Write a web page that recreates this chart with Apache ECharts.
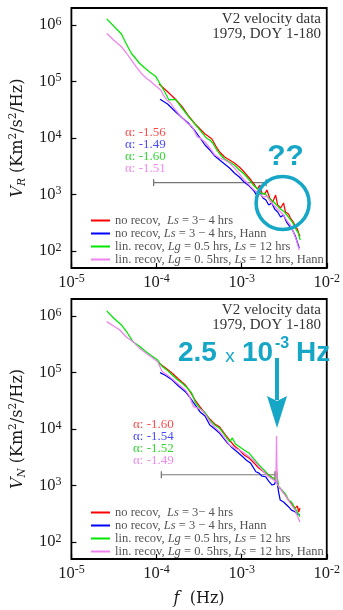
<!DOCTYPE html>
<html><head><meta charset="utf-8">
<script src="https://cdn.jsdelivr.net/npm/echarts@6/dist/echarts.min.js"></script>
<style>html,body{margin:0;padding:0;background:#fff}#c{width:343px;height:610px}</style>
</head><body><div id="c"></div>
<script>
// ---------------- data ----------------
const seriesNames = [
  'no recov, Ls = 3- 4 hrs',
  'no recov, Ls = 3 - 4 hrs, Hann',
  'lin. recov, Lg = 0.5 hrs, Ls = 12 hrs',
  'lin. recov, Lg = 0. 5hrs, Ls = 12 hrs, Hann'
];
const seriesColors = ['#ff0000', '#0000ff', '#00e600', '#ee82ee'];
const alphaTop = ['-1.56', '-1.49', '-1.60', '-1.51'];
const alphaBot = ['-1.60', '-1.54', '-1.52', '-1.49'];
const alphaColors = ['#ff4a4a', '#4a4aff', '#33d633', '#ee8cee'];
const panelNote = ['V2 velocity data', '1979, DOY 1-180'];

// Top panel (V_R): [frequency Hz, PSD]
const topRed = [[1.07e-4,9.04e4],[1.32e-4,6.79e4],[1.67e-4,4.84e4],[2.01e-4,3.54e4],[2.38e-4,2.45e4],[2.84e-4,1.77e4],[3.25e-4,1.44e4],[3.71e-4,1.18e4],[4.02e-4,1.08e4],[4.47e-4,9.6e3],[4.97e-4,7.2e3],[5.52e-4,5.65e3],[6.31e-4,4.61e3],[7.21e-4,4.08e3],[8.23e-4,3.61e3],[9.40e-4,3.07e3],[1.07e-3,2.50e3],[1.23e-3,1.96e3],[1.40e-3,1.53e3],[1.52e-3,1.25e3],[1.64e-3,1.47e3],[1.73e-3,1.06e3],[1.87e-3,1.02e3],[1.98e-3,1.20e3],[2.14e-3,867],[2.32e-3,736],[2.51e-3,980],[2.65e-3,652],[2.87e-3,577],[3.11e-3,708],[3.27e-3,490],[3.55e-3,452],[3.74e-3,384],[4.05e-3,326],[4.28e-3,266],[4.51e-3,245],[4.75e-3,192],[4.88e-3,184]];
const topBlue = [[1.10e-4,4.84e4],[1.35e-4,4.0e4],[1.67e-4,2.92e4],[2.01e-4,2.26e4],[2.38e-4,1.82e4],[2.84e-4,1.33e4],[3.25e-4,1.0e4],[3.71e-4,7.52e3],[4.23e-4,6.14e3],[4.84e-4,4.80e3],[5.52e-4,4.08e3],[6.31e-4,3.47e3],[7.21e-4,2.94e3],[8.23e-4,2.40e3],[9.40e-4,2.04e3],[1.07e-3,1.66e3],[1.23e-3,1.41e3],[1.40e-3,1.15e3],[1.52e-3,940],[1.64e-3,1.06e3],[1.78e-3,867],[1.93e-3,800],[2.08e-3,652],[2.26e-3,708],[2.44e-3,553],[2.65e-3,490],[2.87e-3,400],[3.11e-3,434],[3.37e-3,326],[3.65e-3,277],[3.95e-3,235],[4.28e-3,184],[4.51e-3,144],[4.75e-3,113]];
const topGreen = [[2.60e-5,1.28e6],[3.87e-5,6.93e5],[4.42e-5,4.61e5],[5.06e-5,3.16e5],[6.31e-5,2.10e5],[8.22e-5,1.49e5],[9.82e-5,1.22e5],[1.12e-4,8.67e4],[1.25e-4,6.52e4],[1.40e-4,4.71e4],[1.67e-4,4.8e4],[2.00e-4,3.36e4],[2.38e-4,2.38e4],[3.10e-4,1.49e4],[3.88e-4,9.88e3],[4.23e-4,9.22e3],[4.58e-4,8.17e3],[5.10e-4,6.14e3],[5.52e-4,5.21e3],[6.31e-4,4.25e3],[7.21e-4,3.76e3],[8.23e-4,3.33e3],[9.40e-4,2.72e3],[1.07e-3,2.31e3],[1.23e-3,1.81e3],[1.40e-3,1.41e3],[1.60e-3,1.20e3],[1.73e-3,1.02e3],[1.87e-3,1.06e3],[2.08e-3,867],[2.32e-3,767],[2.58e-3,652],[2.87e-3,553],[3.19e-3,490],[3.55e-3,400],[3.95e-3,326],[4.28e-3,255],[4.63e-3,208],[4.88e-3,157]];
const topViolet = [[2.60e-5,7.13e5],[3.13e-5,5.43e5],[3.87e-5,4.13e5],[4.42e-5,3.19e5],[5.06e-5,2.40e5],[5.78e-5,1.81e5],[6.60e-5,1.40e5],[7.54e-5,1.15e5],[8.61e-5,9.92e4],[9.82e-5,8.31e4],[1.12e-4,7.08e4],[1.22e-4,5.54e4],[1.32e-4,4.71e4],[1.46e-4,4.16e4],[1.67e-4,3.13e4],[1.91e-4,2.45e4],[2.12e-4,2.08e4],[2.36e-4,1.77e4],[2.63e-4,1.58e4],[3.00e-4,1.05e4],[3.25e-4,1.0e4],[3.71e-4,8.5e3],[4.23e-4,6.65e3],[4.84e-4,5.0e3],[5.52e-4,4.43e3],[6.31e-4,4.08e3],[7.21e-4,3.61e3],[8.23e-4,2.94e3],[9.40e-4,2.31e3],[1.07e-3,1.81e3],[1.23e-3,1.47e3],[1.40e-3,1.20e3],[1.60e-3,1.06e3],[1.78e-3,903],[1.98e-3,940],[2.20e-3,736],[2.44e-3,627],[2.72e-3,532],[3.03e-3,452],[3.37e-3,354],[3.74e-3,288],[4.05e-3,217],[4.39e-3,157],[4.75e-3,104]];
const topErrBar = [[9.25e-5,1620],[1.94e-3,1620]];

// Bottom panel (V_N)
const botRed = [[1.07e-4,1.46e5],[1.28e-4,1.20e5],[1.53e-4,9.68e4],[1.81e-4,7.67e4],[2.18e-4,6.01e4],[2.49e-4,4.52e4],[2.84e-4,3.26e4],[3.25e-4,2.45e4],[3.71e-4,1.90e4],[4.23e-4,1.50e4],[4.84e-4,1.23e4],[5.52e-4,1.08e4],[6.31e-4,8.17e3],[7.21e-4,6.38e3],[8.23e-4,5.0e3],[9.40e-4,4.25e3],[1.07e-3,3.47e3],[1.23e-3,3.03e3],[1.40e-3,2.50e3],[1.60e-3,2.02e3],[1.83e-3,1.73e3],[2.08e-3,1.53e3],[2.32e-3,1.36e3],[2.49e-3,1.25e3],[2.57e-3,1.88e3],[2.67e-3,980],[2.94e-3,832],[3.27e-3,679],[3.55e-3,553],[3.85e-3,490],[4.24e-3,394],[4.51e-3,434],[4.69e-3,340],[4.84e-3,400]];
const botBlue = [[1.10e-4,9.92e4],[1.28e-4,8.85e4],[1.53e-4,7.37e4],[1.81e-4,5.77e4],[2.18e-4,4.57e4],[2.49e-4,3.54e4],[2.84e-4,2.66e4],[3.25e-4,2.0e4],[3.71e-4,1.70e4],[4.23e-4,1.18e4],[4.84e-4,1.0e4],[5.52e-4,8.39e3],[6.61e-4,5.96e3],[7.87e-4,4.55e3],[8.91e-4,3.92e3],[1.03e-3,3.24e3],[1.13e-3,2.83e3],[1.28e-3,2.47e3],[1.47e-3,1.75e3],[1.60e-3,1.66e3],[1.73e-3,1.47e3],[1.91e-3,1.43e3],[2.08e-3,1.20e3],[2.28e-3,1.02e3],[2.44e-3,1.06e3],[2.57e-3,1.36e3],[2.72e-3,767],[2.84e-3,553],[3.11e-3,511],[3.55e-3,422],[3.85e-3,368],[4.24e-3,344],[4.51e-3,313],[4.84e-3,301]];
const botGreen = [[2.60e-5,1.23e6],[3.13e-5,9.22e5],[3.87e-5,6.93e5],[4.55e-5,5.0e5],[5.29e-5,3.51e5],[6.25e-5,2.94e5],[7.54e-5,2.33e5],[8.83e-5,1.96e5],[1.03e-4,1.66e5],[1.17e-4,1.27e5],[1.32e-4,1.11e5],[1.53e-4,9.04e4],[1.72e-4,7.67e4],[2.00e-4,6.44e4],[2.24e-4,5.54e4],[2.60e-4,4.3e4],[2.84e-4,3.0e4],[3.25e-4,2.3e4],[3.71e-4,1.95e4],[4.23e-4,1.44e4],[4.84e-4,1.18e4],[5.52e-4,1.03e4],[6.31e-4,7.83e3],[7.21e-4,5.96e3],[7.80e-4,6.93e3],[8.45e-4,5.43e3],[9.40e-4,4.86e3],[1.07e-3,4.25e3],[1.23e-3,3.71e3],[1.40e-3,2.94e3],[1.60e-3,2.31e3],[1.83e-3,1.88e3],[2.08e-3,1.53e3],[2.32e-3,1.36e3],[2.49e-3,1.25e3],[2.57e-3,1.73e3],[2.72e-3,940],[2.97e-3,832],[3.27e-3,708],[3.55e-3,553],[3.85e-3,511],[4.24e-3,394],[4.51e-3,340],[4.84e-3,281]];
const botViolet = [[2.60e-5,7.93e5],[3.13e-5,6.65e5],[3.71e-5,5.65e5],[4.42e-5,4.25e5],[5.29e-5,3.51e5],[6.25e-5,2.72e5],[7.54e-5,2.19e5],[8.83e-5,1.84e5],[1.03e-4,1.55e5],[1.17e-4,1.03e5],[1.39e-4,8.67e4],[1.67e-4,6.88e4],[1.91e-4,5.77e4],[2.18e-4,4.90e4],[2.43e-4,3.84e4],[2.72e-4,2.48e4],[3.00e-4,2.36e4],[3.40e-4,2.17e4],[3.71e-4,1.84e4],[4.23e-4,1.35e4],[4.84e-4,1.08e4],[5.52e-4,8.96e3],[6.31e-4,6.93e3],[7.21e-4,5.21e3],[8.23e-4,4.61e3],[9.40e-4,4.25e3],[1.07e-3,3.76e3],[1.23e-3,3.24e3],[1.40e-3,2.72e3],[1.60e-3,2.15e3],[1.83e-3,1.73e3],[2.08e-3,1.43e3],[2.38e-3,1.25e3],[2.53e-3,1.15e3],[2.57e-3,7.5e3],[2.61e-3,1.06e3],[2.84e-3,892],[3.11e-3,736],[3.55e-3,553],[3.85e-3,452],[4.24e-3,368],[4.51e-3,288],[4.84e-3,226]];
const botErrBar = [[1.14e-4,1550],[2.46e-3,1550]];

const xRange = [1e-5, 1e-2];
const yRange = [50.12, 1.995e6];
const circleAnchor = [3.03e-3, 708];     // annotated region (top panel)
const peakFreq = 2.57e-3;                // arrow (bottom panel)

// ---------------- styling ----------------
const SERIF = '"Liberation Serif", "DejaVu Serif", serif';
const NSERIF = '"DejaVu Serif", "Liberation Serif", serif';
const SANS = '"Liberation Sans", Arial, sans-serif';
const CYAN = '#16a6c6';
const labelRich = {
  b: {fontFamily: SERIF, fontSize: 16.5, lineHeight: 19, color: '#1a1a1a'},
  s: {fontFamily: SERIF, fontSize: 12, lineHeight: 10, verticalAlign: 'top', color: '#1a1a1a'}
};
function powLabel(v) {
  const e = Math.log10(v), r = Math.round(e);
  if (Math.abs(e - r) > 1e-6) return '';
  return '{b|10}{s|' + r + '}';
}
const nameRich = {
  i: {fontFamily: NSERIF, fontSize: 16, fontStyle: 'italic', lineHeight: 20, color: '#1a1a1a'},
  n: {fontFamily: NSERIF, fontSize: 16, lineHeight: 20, color: '#1a1a1a'},
  sub: {fontFamily: NSERIF, fontSize: 10.5, fontStyle: 'italic', lineHeight: 10, verticalAlign: 'bottom', color: '#1a1a1a'},
  sup: {fontFamily: NSERIF, fontSize: 10.5, lineHeight: 10, verticalAlign: 'top', color: '#1a1a1a'}
};
const legendFmt = {};
legendFmt[seriesNames[0]] = 'no recov,  {i|Ls} = 3\u2212 4 hrs';
legendFmt[seriesNames[1]] = 'no recov, {i|Ls} = 3 \u2212 4 hrs, Hann';
legendFmt[seriesNames[2]] = 'lin. recov, {i|Lg} = 0.5 hrs, {i|Ls} = 12 hrs';
legendFmt[seriesNames[3]] = 'lin. recov, {i|Lg} = 0. 5hrs, {i|Ls} = 12 hrs, Hann';

const grids = [
  {left: 69, top: 8, width: 260, height: 260},
  {left: 69, top: 299, width: 260, height: 260}
];

function xAxis(gi, withName) {
  return {
    type: 'log', logBase: 10, gridIndex: gi, min: xRange[0], max: xRange[1],
    axisLine: {show: false}, splitLine: {show: false}, minorTick: {show: false},
    axisTick: {show: true, inside: true, length: 5, lineStyle: {color: '#000', width: 1.2}},
    axisLabel: {formatter: powLabel, rich: labelRich, margin: 5},
    name: withName ? '{i|f}{n|  (Hz)}' : '',
    nameLocation: 'middle', nameGap: 30,
    nameTextStyle: {rich: nameRich}
  };
}
function yAxis(gi, sub) {
  return {
    type: 'log', logBase: 10, gridIndex: gi, min: yRange[0], max: yRange[1],
    axisLine: {show: false}, splitLine: {show: false}, minorTick: {show: false},
    axisTick: {show: true, inside: true, length: 5, lineStyle: {color: '#000', width: 1.2}},
    axisLabel: {formatter: powLabel, rich: labelRich, margin: 10, showMinLabel: false, showMaxLabel: false},
    name: '{i|V}{sub|' + sub + '}{n| (Km}{sup|2}{n|/s}{sup|2}{n|/Hz)}',
    nameLocation: 'middle', nameGap: 43, nameRotate: 90,
    nameTextStyle: {rich: nameRich}
  };
}
function dataSeries(name, data, color, gi) {
  return {
    type: 'line', name: name, data: data, xAxisIndex: gi, yAxisIndex: gi,
    symbol: 'none', showSymbol: false, smooth: false,
    lineStyle: {color: color, width: 1.25}, itemStyle: {color: color},
    emphasis: {disabled: true}, z: 3
  };
}
function errSeries(data, gi) {
  return {
    type: 'line', name: 'err' + gi, data: data, xAxisIndex: gi, yAxisIndex: gi,
    symbol: 'rect', symbolSize: [1.3, 7], showSymbol: true,
    lineStyle: {color: '#777', width: 1.2}, itemStyle: {color: '#777'},
    emphasis: {disabled: true}, z: 2
  };
}
function legend(top) {
  return {
    orient: 'vertical', left: 86, top: top, itemWidth: 19, itemHeight: 2, itemGap: 0,
    icon: 'rect', data: seriesNames, selectedMode: false,
    formatter: n => legendFmt[n],
    textStyle: {fontFamily: SERIF, fontSize: 12.5, lineHeight: 12, color: '#555',
      rich: {i: {fontFamily: SERIF, fontSize: 12.5, fontStyle: 'italic', color: '#555'}}}
  };
}

const topSets = [topRed, topBlue, topGreen, topViolet];
const botSets = [botRed, botBlue, botGreen, botViolet];
const series = [errSeries(topErrBar, 0), errSeries(botErrBar, 1)];
topSets.forEach((d, i) => series.push(dataSeries(seriesNames[i], d, seriesColors[i], 0)));
botSets.forEach((d, i) => series.push(dataSeries(seriesNames[i], d, seriesColors[i], 1)));

const chart = echarts.init(document.getElementById('c'), null, {renderer: 'canvas'});
chart.setOption({
  animation: false,
  backgroundColor: '#fff',
  grid: grids.map(g => Object.assign({show: true, borderColor: '#000', borderWidth: 1.8, backgroundColor: 'transparent'}, g)),
  xAxis: [xAxis(0, false), xAxis(1, true)],
  yAxis: [yAxis(0, 'R'), yAxis(1, 'N')],
  legend: [legend(209), legend(501)],
  series: series
});

// ---------------- annotations ----------------
function txt(x, y, text, font, fill, align, va) {
  return {type: 'text', x: x, y: y, z: 20, silent: true,
    style: {text: text, font: font, fill: fill, align: align || 'left', textAlign: align || 'left',
      verticalAlign: va || 'middle', textVerticalAlign: va || 'middle'}};
}
const g = [];
// note text
[[0, 8], [1, 299]].forEach(([gi, top]) => {
  g.push(txt(321, top + 11, panelNote[0], '15px ' + SERIF, '#333', 'right'));
  g.push(txt(321, top + 26, panelNote[1], '15px ' + SERIF, '#333', 'right'));
});
// alpha labels
alphaTop.forEach((a, i) => g.push(txt(125, 133 + 12 * i, '\u03b1: ' + a, '13px ' + SERIF, alphaColors[i])));
alphaBot.forEach((a, i) => g.push(txt(133, 425 + 12 * i, '\u03b1: ' + a, '13px ' + SERIF, alphaColors[i])));
// circle + ??
const cp = chart.convertToPixel({gridIndex: 0}, circleAnchor);
g.push({type: 'circle', z: 20, silent: true, shape: {cx: cp[0], cy: cp[1], r: 26.5},
  style: {fill: 'none', stroke: CYAN, lineWidth: 3.6}});
g.push(txt(cp[0] + 3, cp[1] - 46, '??', 'bold 30px ' + SANS, CYAN, 'center'));
// arrow + label
const ap = chart.convertToPixel({gridIndex: 1}, [peakFreq, 7.5e3]);
const ax = ap[0] + 0.5;
g.push({type: 'rect', z: 20, silent: true, shape: {x: ax - 2, y: 358, width: 4, height: 42}, style: {fill: CYAN}});
g.push({type: 'polygon', z: 20, silent: true,
  shape: {points: [[ax - 10, 396], [ax, 401], [ax + 10, 396], [ax, 428]]}, style: {fill: CYAN}});
g.push(txt(178, 353, '2.5', 'bold 28px ' + SANS, CYAN, 'left'));
g.push(txt(230, 357, 'x', '19px ' + SANS, CYAN, 'center'));
g.push(txt(242, 353, '10', 'bold 28px ' + SANS, CYAN, 'left'));
g.push(txt(275, 344, '-3', 'bold 16px ' + SANS, CYAN, 'left'));
g.push(txt(296, 353, 'Hz', 'bold 28px ' + SANS, CYAN, 'left'));
chart.setOption({graphic: g});
</script>
</body></html>
